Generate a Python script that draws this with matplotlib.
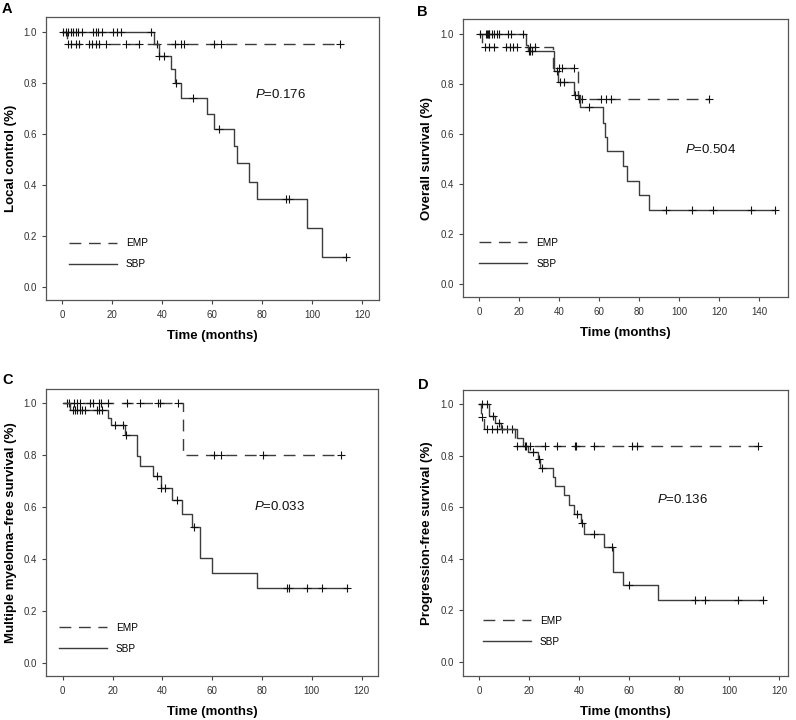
import matplotlib
matplotlib.use('Agg')
import matplotlib.pyplot as plt
import numpy as np

plt.rcParams['font.family'] = ['Liberation Sans', 'DejaVu Sans']
plt.rcParams['mathtext.fontset'] = 'custom'
plt.rcParams['mathtext.it'] = 'Liberation Sans:italic'
plt.rcParams['mathtext.rm'] = 'Liberation Sans'

# ---- panel A : local control ----
a_emp_t = [0, 1.8, 111.3]
a_emp_s = [1.0, 0.952, 0.952]
a_emp_c = [2.4, 3.7, 5.5, 6.8, 10.8, 12.1, 13.5, 14.8, 17.7, 25.7, 30.8, 38.0, 45.3, 47.7, 48.8, 60.7, 63.7, 111.3]
a_sbp_t = [0, 36.8, 38.7, 43.7, 45.0, 47.7, 58.0, 60.7, 68.8, 70.0, 74.8, 78.1, 98.0, 103.9, 113.7]
a_sbp_s = [1.0, 0.952, 0.906, 0.853, 0.798, 0.740, 0.679, 0.620, 0.551, 0.484, 0.410, 0.344, 0.232, 0.115, 0.115]
a_sbp_c = [0.5, 1.5, 2.5, 3.5, 4.5, 5.5, 6.5, 8.0, 12.5, 13.5, 14.5, 16.0, 20.5, 22.0, 23.5, 35.7,
           38.9, 40.7, 45.7, 52.4, 62.7, 89.5, 90.8, 113.7]

# ---- panel B : overall survival ----
b_emp_t = [0, 1.5, 37.0, 49.2, 115.1]
b_emp_s = [1.0, 0.947, 0.864, 0.741, 0.741]
b_emp_c = [2.8, 5.0, 7.3, 13.3, 15.4, 16.7, 18.7, 25.4, 27.9, 39.7, 41.6, 47.2, 49.9, 51.6, 60.9, 63.2, 65.7, 115.1]
b_sbp_t = [0, 23.4, 24.5, 37.4, 39.5, 47.6, 50.4, 61.7, 62.7, 63.7, 71.7, 74.1, 80.1, 85.1, 148.0]
b_sbp_s = [1.0, 0.955, 0.93, 0.851, 0.808, 0.757, 0.706, 0.645, 0.588, 0.532, 0.471, 0.412, 0.355, 0.298, 0.298]
b_sbp_c = [0.3, 3.5, 3.9, 4.3, 4.7, 5.1, 6.2, 7.3, 8.7, 10.0, 14.5, 15.9, 22.0, 25.0, 25.5, 26.3,
           38.7, 40.4, 42.4, 47.9, 55.0, 93.3, 106.6, 117.1, 135.8, 148.0]

# ---- panel C : multiple myeloma-free survival ----
c_emp_t = [0, 48.2, 111.6]
c_emp_s = [1.0, 0.8, 0.8]
c_emp_c = [1.6, 2.5, 4.7, 5.6, 7.0, 11.0, 12.3, 14.6, 15.3, 18.1, 26.0, 31.0, 38.1, 39.1, 46.2,
           60.7, 63.5, 80.3, 111.6]
c_sbp_t = [0, 3.0, 18.1, 19.3, 25.2, 30.0, 31.0, 36.1, 39.3, 44.0, 48.0, 52.0, 55.1, 60.1, 78.0, 114.2]
c_sbp_s = [1.0, 0.976, 0.945, 0.915, 0.877, 0.797, 0.757, 0.719, 0.676, 0.627, 0.576, 0.526, 0.406, 0.348, 0.290, 0.290]
c_sbp_c = [4.0, 4.9, 5.9, 7.0, 7.9, 9.0, 13.6, 14.6, 15.7, 21.0, 24.1, 25.4, 38.0, 39.6, 41.2, 46.0,
           52.8, 90.2, 91.0, 98.2, 104.1, 114.2]

# ---- panel D : progression-free survival ----
d_emp_t = [0, 0.5, 2.0, 14.2, 111.5]
d_emp_s = [1.0, 0.952, 0.905, 0.839, 0.839]
d_emp_c = [1.2, 2.9, 4.9, 6.9, 8.9, 10.9, 13.0, 15.0, 18.8, 20.3, 26.3, 31.0, 38.1, 38.7, 45.9,
           61.0, 63.0, 111.5]
d_sbp_t = [0, 4.0, 6.3, 8.6, 15.2, 17.6, 19.4, 23.4, 24.4, 29.6, 30.3, 33.9, 35.9, 37.9, 40.5, 41.8,
           49.9, 53.7, 57.7, 71.7, 113.8]
d_sbp_s = [1.0, 0.955, 0.929, 0.903, 0.871, 0.838, 0.815, 0.787, 0.754, 0.719, 0.683, 0.647, 0.611,
           0.576, 0.538, 0.497, 0.448, 0.348, 0.299, 0.241, 0.241]
d_sbp_c = [0.9, 3.2, 5.3, 8.0, 18.3, 21.4, 23.7, 24.9, 39.0, 40.9, 46.0, 53.0, 59.8, 86.5, 90.5, 103.5, 113.8]

letters = ['A', 'B', 'C', 'D']
ylabels = ['Local control (%)', 'Overall survival (%)',
           'Multiple myeloma\u2013free survival (%)', 'Progression-free survival (%)']
pvals = ['0.176', '0.504', '0.033', '0.136']

W, H = 796, 720
fig = plt.figure(figsize=(W / 100, H / 100), dpi=100)

def px_axes(l, r, t, b):
    return fig.add_axes([l / W, 1 - b / H, (r - l) / W, (b - t) / H])

def cens_y(t, s, c):
    idx = np.searchsorted(t, c, side='right') - 1
    return np.array(s)[idx]

def panel(ax, emp, sbp, xmax_tick, xlim, ylim, ylab, ptxt, ppos, leg_pos):
    line_col = '#3c3c3c'
    for (t, s, c), ls, lab in [(emp, (0, (8.5, 5.5)), 'EMP'), (sbp, '-', 'SBP')]:
        ax.step(t, s, where='post', color=line_col, lw=1.0, ls=ls, label=lab)
        ax.plot(c, cens_y(t, s, c), ls='none', marker='+', ms=5.5, mew=0.8, color='#111111')
    ax.set_xlim(xlim)
    ax.set_ylim(ylim)
    ax.set_xticks(np.arange(0, xmax_tick + 1, 20))
    ax.set_yticks(np.arange(0, 1.01, 0.2))
    ax.set_yticklabels(['%.1f' % v for v in np.arange(0, 1.01, 0.2)])
    ax.tick_params(axis='both', labelsize=7, colors='#444444', labelcolor='#333333',
                   length=3, width=0.8, direction='out')
    ax.tick_params(axis='x', pad=4.5)
    ax.tick_params(axis='y', pad=3.5)
    for sp in ax.spines.values():
        sp.set_color('#555555')
        sp.set_linewidth(0.9)
    ax.set_xlabel('Time (months)', fontsize=9.5, fontweight='bold', labelpad=7)
    ax.set_ylabel(ylab, fontsize=9.5, fontweight='bold', labelpad=5)
    ax.text(ppos[0], ppos[1], '$P$=' + ptxt, fontsize=9.5, va='center', ha='left', color='#111111')
    ax.legend(loc='center left', bbox_to_anchor=leg_pos, frameon=False, fontsize=7.2,
              handlelength=4.8, handletextpad=0.9, labelspacing=1.1, borderpad=0, borderaxespad=0)

axA = px_axes(46, 379, 17, 300)
panel(axA, (a_emp_t, a_emp_s, a_emp_c), (a_sbp_t, a_sbp_s, a_sbp_c), 120,
      (-6.5, 126.8), (-0.052, 1.058), ylabels[0], pvals[0], (77, 0.755), (0.069, 0.163))
axB = px_axes(462.7, 787.7, 19.3, 296.7)
panel(axB, (b_emp_t, b_emp_s, b_emp_c), (b_sbp_t, b_sbp_s, b_sbp_c), 140,
      (-8.3, 154.3), (-0.049, 1.057), ylabels[1], pvals[1], (103, 0.536), (0.051, 0.156))
axC = px_axes(46, 378.3, 389.3, 676)
panel(axC, (c_emp_t, c_emp_s, c_emp_c), (c_sbp_t, c_sbp_s, c_sbp_c), 120,
      (-6.7, 126.7), (-0.049, 1.054), ylabels[2], pvals[2], (76.8, 0.605), (0.039, 0.132))
axD = px_axes(462.7, 787.7, 390, 676)
panel(axD, (d_emp_t, d_emp_s, d_emp_c), (d_sbp_t, d_sbp_s, d_sbp_c), 120,
      (-6.7, 123.5), (-0.055, 1.056), ylabels[3], pvals[3], (71, 0.631), (0.0615, 0.157))

# panel letters
for lab, (x, y) in zip(letters, [(2, 2), (417, 5), (2, 373), (418, 378)]):
    fig.text(x / W, 1 - y / H, lab, fontsize=10.5, fontweight='bold', va='top', ha='left')

fig.savefig('out.png', dpi=100, facecolor='white')
